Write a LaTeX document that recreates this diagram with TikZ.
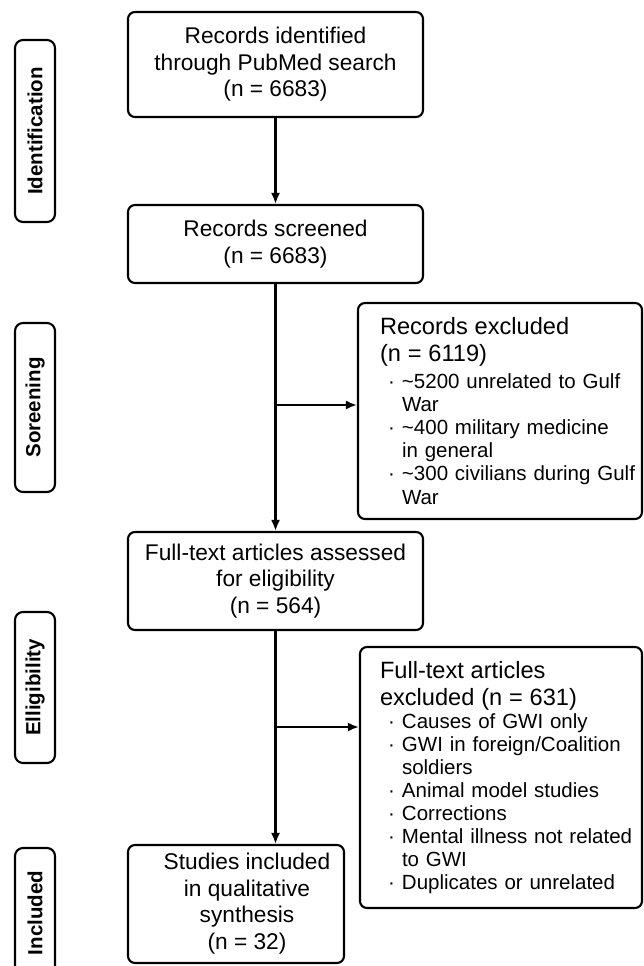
\documentclass[tikz,border=0pt]{standalone}
\usepackage{fontspec}
\setmainfont{Liberation Sans}
\usetikzlibrary{arrows.meta,positioning}

% one bullet line of an exclusion list (first line, second line)
\newcommand{\xitem}[2]{\mbox{\hspace*{8pt}\makebox[14pt][l]{\textperiodcentered}#1}\ifx\relax#2\relax\else\\\mbox{\hspace*{22pt}#2}\fi}
\newcommand{\xhead}[1]{\mbox{\fontsize{23.6}{27}\selectfont #1}}

\begin{document}
\begin{tikzpicture}[x=1pt,y=-1pt,
	box/.style={draw,line width=2.1pt,rounded corners=7pt,align=center,inner sep=0pt,
		font=\fontsize{22.7}{26.5}\selectfont},
	exbox/.style={draw,line width=2.1pt,rounded corners=7pt,align=left,inner sep=0pt,
		font=\fontsize{20.5}{23.1}\selectfont},
	stage/.style={draw,line width=2.1pt,rounded corners=8pt,rotate=90,inner sep=0pt,
		minimum height=40pt,font=\bfseries\fontsize{20.5}{24}\selectfont},
	arr/.style={line width=2.1pt,-{Latex[length=11pt,width=9pt]}}]
	\useasboundingbox (0,0) rectangle (643,966);
	
	% stages on the left
	\node[stage,minimum width=182pt] (sid) at (35,131) {Identification};
	\node[stage,minimum width=169pt] (sscr) at (35,407.5) {Soreening};
	\node[stage,minimum width=151pt] (selig) at (35,687.5) {Elligibility};
	\node[stage,minimum width=130pt] (sinc) at (35,913) {Included};
	
	% main column
	\node[box,minimum width=295pt,minimum height=105pt] (ident) at (275.5,64.5)
	{Records identified\\through PubMed search\\(n = 6683)};
	\node[box,minimum width=295pt,minimum height=78pt] (screen) at (275.5,244)
	{Records screened\\(n = 6683)};
	\node[box,minimum width=295pt,minimum height=98pt] (full) at (275.5,581)
	{Full-text articles assessed\\for eligibility\\(n = 564)};
	\node[box,minimum width=216pt,minimum height=118pt] (incl) at (236,904)
	{\hspace*{22pt}\begin{tabular}{@{}c@{}}Studies included\\in qualitative\\synthesis\\(n = 32)\end{tabular}};
	
	% exclusions
	\node[exbox,minimum width=284pt,minimum height=216pt,text width=240pt] (exA) at (500,411)
	{\xhead{Records excluded}\\[3.9pt]
		\xhead{(n = 6119)}\\[3.6pt]
		\xitem{\textasciitilde 5200 unrelated to Gulf}{War}\\
		\xitem{\textasciitilde 400 military medicine}{in general}\\
		\xitem{\textasciitilde 300 civilians during Gulf}{War}};
	\node[exbox,minimum width=282pt,minimum height=261pt,text width=242pt] (exB) at (501,777.5)
	{\xhead{Full-text articles}\\[3.9pt]
		\xhead{excluded (n = 631)}\\[0pt]
		\xitem{Causes of GWI only}{}\\
		\xitem{GWI in foreign/Coalition}{soldiers}\\
		\xitem{Animal model studies}{}\\
		\xitem{Corrections}{}\\
		\xitem{Mental illness not related}{to GWI}\\
		\xitem{Duplicates or unrelated}{}};
	
	% connectors
	\draw[arr] (ident) -- (screen);
	\draw[arr] (screen) -- (full);
	\draw[arr] (full.south) -- (full.south |- incl.north);
	\coordinate (brA) at (275.5,405);
	\coordinate (brB) at (275.5,727);
	\draw[arr] (brA) -- (brA -| exA.west);
	\draw[arr] (brB) -- (brB -| exB.west);
\end{tikzpicture}
\end{document}
